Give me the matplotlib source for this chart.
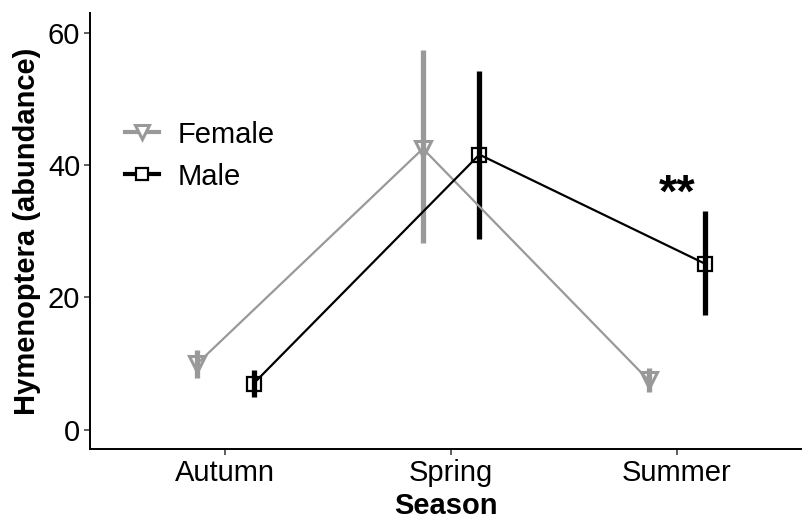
import numpy as np
import matplotlib
matplotlib.use('Agg')
import matplotlib.pyplot as plt
from matplotlib.lines import Line2D

plt.rcParams['font.family'] = ['Liberation Sans', 'DejaVu Sans']

seasons = ['Autumn', 'Spring', 'Summer']
female_mean = [10.0, 42.5, 7.5]
female_lo = [7.9, 28.2, 5.7]
female_hi = [12.0, 57.4, 9.3]
male_mean = [7.0, 41.6, 25.1]
male_lo = [5.0, 28.9, 17.4]
male_hi = [9.0, 54.3, 33.0]
sig_label = '**'
sig_pos = (3, 35.6)

GREY = '#999999'
BLACK = '#000000'
dodge = 0.125

fig = plt.figure(figsize=(8.05, 5.19), dpi=100)
ax = fig.add_axes([90/805, 1 - 449/519, (801-90)/805, (449-13)/519])

x = np.arange(1, len(seasons) + 1)
xf = x - dodge
xm = x + dodge

fm = np.array(female_mean); mm = np.array(male_mean)
ax.errorbar(xf, fm, yerr=[fm - np.array(female_lo), np.array(female_hi) - fm],
            fmt='none', ecolor=GREY, elinewidth=3.8, capsize=0, zorder=2)
ax.plot(xf, fm, color=GREY, lw=1.6, zorder=3)
ax.plot(xf, fm, linestyle='none', marker='v', ms=11, mfc='none', mec=GREY, mew=2.2, zorder=4)

ax.errorbar(xm, mm, yerr=[mm - np.array(male_lo), np.array(male_hi) - mm],
            fmt='none', ecolor=BLACK, elinewidth=3.8, capsize=0, zorder=2)
ax.plot(xm, mm, color=BLACK, lw=1.6, zorder=3)
ax.plot(xm, mm, linestyle='none', marker='s', ms=10, mfc='none', mec=BLACK, mew=1.6, zorder=4)

ax.text(sig_pos[0], sig_pos[1], sig_label, ha='center', va='center', fontsize=34, fontweight='bold')

ax.set_xlim(0.4, 3.55)
ax.set_ylim(-2.9, 63.0)
ax.set_xticks(x)
ax.set_xticklabels(seasons)
ax.set_yticks([0, 20, 40, 60])
ax.tick_params(labelsize=21, length=4, width=1.1, color='#333333', pad=3)
for s in ['top', 'right']:
    ax.spines[s].set_visible(False)
for s in ['left', 'bottom']:
    ax.spines[s].set_linewidth(1.4)

ax.set_xlabel('Season', fontsize=21, fontweight='bold', labelpad=4)
ax.set_ylabel('Hymenoptera (abundance)', fontsize=21, fontweight='bold', labelpad=5)

handles = [
    Line2D([], [], color=GREY, lw=3, marker='v', ms=10, mfc='white', mec=GREY, mew=2.2),
    Line2D([], [], color=BLACK, lw=3, marker='s', ms=8, mfc='white', mec=BLACK, mew=1.6),
]
ax.legend(handles, ['Female', 'Male'], loc='upper left', bbox_to_anchor=(0.049, 0.753),
          frameon=False, fontsize=21, handlelength=1.17, handletextpad=0.65,
          labelspacing=0.48, borderpad=0, borderaxespad=0)

fig.savefig('out.png', dpi=100)
